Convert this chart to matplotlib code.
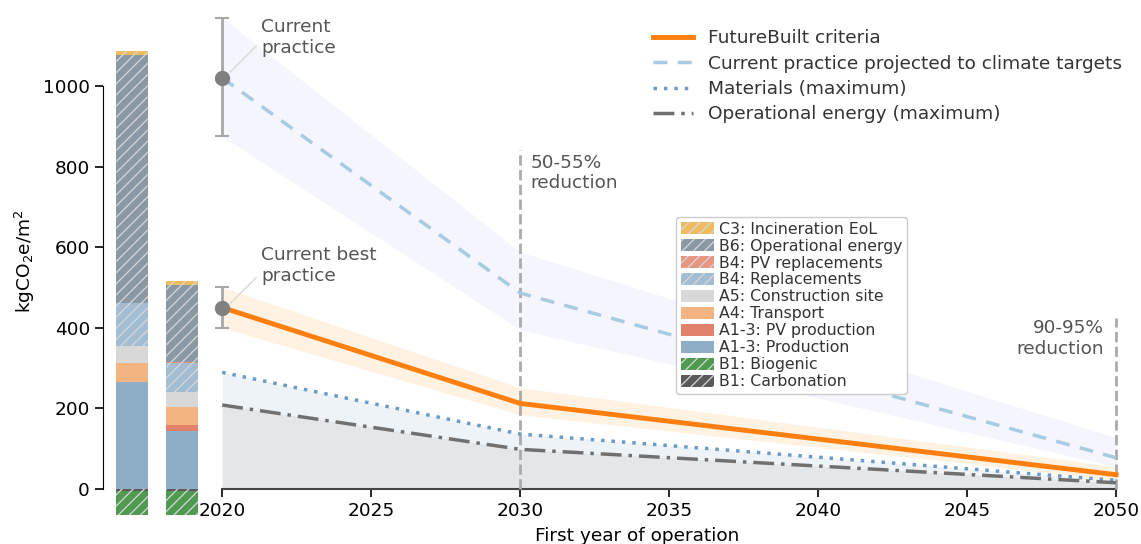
import matplotlib
matplotlib.use('Agg')
import matplotlib.pyplot as plt
from matplotlib.patches import Patch
from matplotlib.lines import Line2D
import numpy as np

# stacked bars: current practice vs current best practice (kgCO2e/m2)
stages = ['B1: Carbonation', 'B1: Biogenic', 'A1-3: Production', 'A1-3: PV production',
          'A4: Transport', 'A5: Construction site', 'B4: Replacements',
          'B4: PV replacements', 'B6: Operational energy', 'C3: Incineration EoL']
current_practice = [-5, -59, 264, 0, 49, 41, 108, 0, 616, 10]
best_practice = [-5, -59, 144, 15, 43, 39, 71, 4, 189, 12]

# trajectories
years = [2020, 2030, 2050]
futurebuilt = [450, 212, 35]
futurebuilt_low = [400, 184, 22]
futurebuilt_high = [500, 251, 55]
projected = [1020, 486, 77]
projected_low = [875, 395, 55]
projected_high = [1170, 588, 127]
materials = [289, 136, 21]
operational = [208, 98, 15]

stage_colors = {
    'B1: Carbonation': '#5a5a5a',
    'B1: Biogenic': '#4f9a4f',
    'A1-3: Production': '#8eaec8',
    'A1-3: PV production': '#e0826c',
    'A4: Transport': '#f4b482',
    'A5: Construction site': '#d8d8d8',
    'B4: Replacements': '#a2bcd2',
    'B4: PV replacements': '#e8957f',
    'B6: Operational energy': '#8a98a4',
    'C3: Incineration EoL': '#efbb5e',
}
hatched = {'B1: Carbonation', 'B1: Biogenic', 'B4: Replacements',
           'B4: PV replacements', 'B6: Operational energy', 'C3: Incineration EoL'}

FS = 13.3
plt.rcParams['font.family'] = 'DejaVu Sans'
plt.rcParams['font.size'] = FS
plt.rcParams['hatch.linewidth'] = 0.9

fig = plt.figure(figsize=(11.41, 5.44), dpi=100)
ax = fig.add_axes([0.0903, 0.0496, 0.901, 0.9404])

txt = '#555555'

# bars
bar_x = [2016.97, 2018.65]
bar_w = 1.07
for xpos, vals in zip(bar_x, [current_practice, best_practice]):
    pos, neg = 0, 0
    for st, v in zip(stages, vals):
        if v == 0:
            continue
        if v > 0:
            base = pos
            pos += v
        else:
            base = neg
            neg += v
        ax.bar(xpos, v, bottom=base, width=bar_w, color=stage_colors[st],
               hatch='///' if st in hatched else None,
               edgecolor='#d4d8dc' if st in hatched else stage_colors[st],
               linewidth=0, zorder=2)

# fills under materials / operational
ax.fill_between(years, 0, materials, color='#eef3f7', lw=0, zorder=1)
ax.fill_between(years, 0, operational, color='#e3e7ea', lw=0, zorder=1)

# bands
ax.fill_between(years, projected_low, projected_high, color='#f4f5fd', lw=0, zorder=1)
ax.fill_between(years, futurebuilt_low, futurebuilt_high, color='#fff2e2', lw=0, zorder=1)

# reduction markers
ax.plot([2030, 2030], [0, 840], color='#aaaaaa', ls='--', lw=2, zorder=3)
ax.plot([2050, 2050], [0, 425], color='#aaaaaa', ls='--', lw=2, zorder=3)
ax.text(2030.35, 832, '50-55%\nreduction', color=txt, va='top', ha='left')
ax.text(2049.6, 422, '90-95%\nreduction', color=txt, va='top', ha='right',
        multialignment='right')

# lines
ax.plot(years, futurebuilt, color='#ff7f0e', lw=3.5, zorder=5)
ax.plot(years, projected, color='#a6cbe3', lw=2.5, ls=(0, (4, 3)), zorder=5)
ax.plot(years, materials, color='#6b9ac4', lw=2.5, ls=(0, (1, 2)), zorder=5)
ax.plot(years, operational, color='#707070', lw=2.5, ls=(0, (6, 2, 1, 2)), zorder=5)

# current points with error bars
ax.errorbar([2020], [projected[0]],
            yerr=[[projected[0] - projected_low[0]], [projected_high[0] - projected[0]]],
            fmt='o', color='#808080', ecolor='#a8a8a8', ms=10, elinewidth=2,
            capsize=5, capthick=1.5, zorder=6)
ax.errorbar([2020], [futurebuilt[0]],
            yerr=[[futurebuilt[0] - futurebuilt_low[0]], [futurebuilt_high[0] - futurebuilt[0]]],
            fmt='o', color='#808080', ecolor='#a8a8a8', ms=10, elinewidth=2,
            capsize=5, capthick=1.5, zorder=6)

ax.annotate('Current\npractice', xy=(2020.2, 1030), xytext=(2021.3, 1120),
            va='center', ha='left', color=txt,
            arrowprops=dict(arrowstyle='-', color='#d8d8d8', lw=1,
                            connectionstyle='angle,angleA=0,angleB=45,rad=0'))
ax.annotate('Current best\npractice', xy=(2020.2, 455), xytext=(2021.3, 555),
            va='center', ha='left', color=txt,
            arrowprops=dict(arrowstyle='-', color='#d8d8d8', lw=1,
                            connectionstyle='angle,angleA=0,angleB=45,rad=0'))

# axes styling
ax.set_xlim(2016, 2050.5)
ax.set_ylim(-70, 1200)
for s in ['top', 'right']:
    ax.spines[s].set_visible(False)
ax.spines['bottom'].set_position(('data', 0))
ax.spines['bottom'].set_bounds(2020, 2050)
ax.spines['bottom'].set_color('#444444')
ax.spines['bottom'].set_linewidth(1.5)
ax.spines['left'].set_bounds(0, 1000)
ax.set_xticks(range(2020, 2051, 5))
ax.set_yticks(range(0, 1001, 200))
ax.tick_params(length=6, width=1.2, labelsize=FS)
ax.set_xlabel('First year of operation')
ax.xaxis.set_label_coords(0.52, -0.019)
ax.set_ylabel('kgCO$_2$e/m$^2$')

# legends
line_handles = [
    Line2D([], [], color='#ff7f0e', lw=3.5),
    Line2D([], [], color='#a6cbe3', lw=2.5, ls=(0, (4, 3))),
    Line2D([], [], color='#6b9ac4', lw=2.5, ls=(0, (1, 2))),
    Line2D([], [], color='#707070', lw=2.5, ls=(0, (6, 2, 1, 2))),
]
line_labels = ['FutureBuilt criteria', 'Current practice projected to climate targets',
               'Materials (maximum)', 'Operational energy (maximum)']
leg1 = ax.legend(line_handles, line_labels, loc='upper left', frameon=False,
                 bbox_to_anchor=(0.519, 0.986), fontsize=FS, labelspacing=0.4,
                 handlelength=2.15, labelcolor='#333333')
ax.add_artist(leg1)

patch_handles = []
for st in stages[::-1]:
    patch_handles.append(Patch(facecolor=stage_colors[st],
                               edgecolor='#d4d8dc' if st in hatched else stage_colors[st],
                               hatch='///' if st in hatched else None, lw=0))
leg2 = ax.legend(patch_handles, stages[::-1], loc='upper left',
                 bbox_to_anchor=(0.550, 0.602), fontsize=11.3, labelspacing=0.125,
                 handlelength=2.1, handleheight=0.85, handletextpad=0.3,
                 borderpad=0.3, labelcolor='#333333', framealpha=1,
                 edgecolor='#cccccc')

fig.savefig('out.png', dpi=100)
